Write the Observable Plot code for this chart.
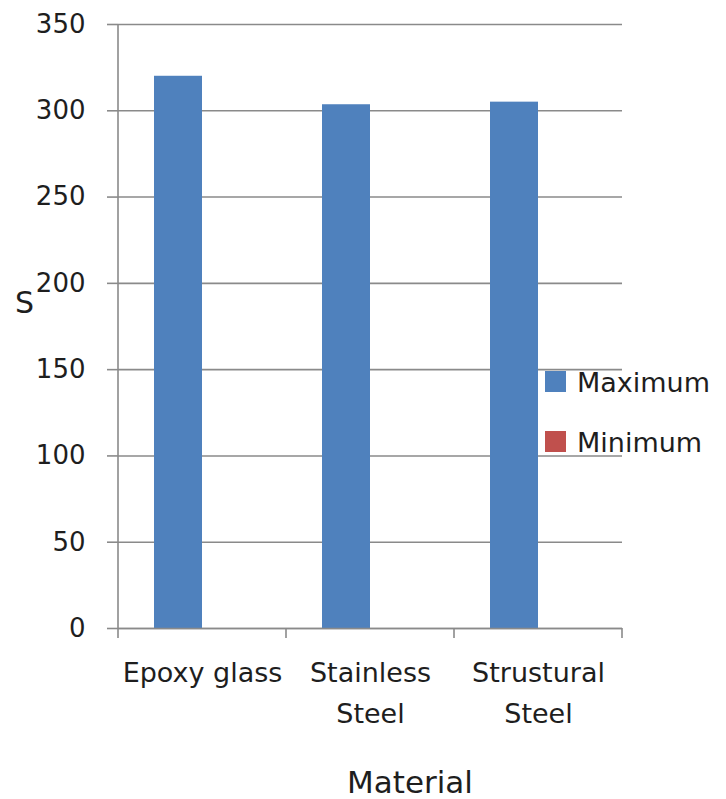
<!DOCTYPE html>
<html>
<head>
<meta charset="utf-8">
<script src="https://cdn.jsdelivr.net/npm/d3@7"></script>
<script src="https://cdn.jsdelivr.net/npm/@observablehq/plot@0.6"></script>
<style>
  html, body { margin: 0; padding: 0; background: #ffffff; }
  #chart svg { display: block; }
</style>
</head>
<body>
<div id="chart"></div>
<script>
// Materials along the category axis
const materials = ["Epoxy glass", "Stainless Steel", "Strustural Steel"];
const materialLabels = ["Epoxy glass", "Stainless\nSteel", "Strustural\nSteel"];

// Series values per material
const series = ["Maximum", "Minimum"];
const maximum = [320, 303.5, 305];
const minimum = [0, 0, 0];
const seriesColors = ["#4F81BD", "#C0504D"];

// Value axis ticks
const yTicks = [0, 50, 100, 150, 200, 250, 300, 350];

const rows = materials.flatMap((m, i) => [
  {material: m, series: "Maximum", value: maximum[i]},
  {material: m, series: "Minimum", value: minimum[i]}
]);

const lineColor = "#8a8a8a";
const textColor = "#1e1e1e";
const font = "DejaVu Sans";

const plot = Plot.plot({
  width: 726,
  height: 799,
  marginLeft: 118,
  marginRight: 104,
  marginTop: 24,
  marginBottom: 171,
  style: {fontFamily: font, color: textColor, background: "#ffffff", overflow: "visible"},
  fx: {domain: materials, padding: 0},
  x: {domain: series, paddingInner: 0, paddingOuter: 0.75, axis: null},
  y: {domain: [0, 350], ticks: yTicks},
  color: {domain: series, range: seriesColors},
  marks: [
    Plot.gridY(yTicks, {stroke: lineColor, strokeOpacity: 1, strokeWidth: 1.6}),
    Plot.barY(rows, {fx: "material", x: "series", y: "value", fill: "series"}),
    Plot.ruleY([0], {stroke: lineColor, strokeWidth: 1.6}),
    Plot.axisY(yTicks, {
      tickSize: 11, tickPadding: 22, fontSize: 26, stroke: lineColor, strokeWidth: 1.6,
      fill: textColor, label: null
    }),
    Plot.axisFx({
      anchor: "bottom", tickSize: 0, tickPadding: 24, fontSize: 27, lineHeight: 1.52, fill: textColor,
      tickFormat: (d) => materialLabels[materials.indexOf(d)], label: null
    })
  ]
});

document.getElementById("chart").append(plot);

// Left axis line and category boundary ticks, placed from the plot's scales
const fx = plot.scale("fx");
const y = plot.scale("y");
const svg = d3.select(plot);
const edges = materials.map((m) => fx.apply(m)).concat([fx.apply(materials[materials.length - 1]) + fx.bandwidth]);
const y0 = y.apply(0);
const yTop = y.apply(350);
const g = svg.append("g").attr("stroke", lineColor).attr("stroke-width", 1.6);
g.append("line").attr("x1", edges[0]).attr("x2", edges[0]).attr("y1", yTop).attr("y2", y0);
edges.forEach((x) => {
  g.append("line").attr("x1", x).attr("x2", x).attr("y1", y0).attr("y2", y0 + 10);
});

// Axis titles
svg.append("text")
  .attr("x", 15).attr("y", 313)
  .attr("text-anchor", "start")
  .attr("font-size", 30).attr("fill", textColor)
  .text("S");
svg.append("text")
  .attr("x", 410).attr("y", 793)
  .attr("text-anchor", "middle")
  .attr("font-size", 31).attr("fill", textColor)
  .text("Material");

// Legend
const color = plot.scale("color");
const legend = svg.append("g").attr("text-anchor", "start");
series.forEach((s, i) => {
  const top = 371 + i * 60;
  legend.append("rect")
    .attr("x", 545).attr("y", top).attr("width", 21).attr("height", 21)
    .attr("fill", color.apply(s));
  legend.append("text")
    .attr("x", 577).attr("y", top + 21)
    .attr("font-size", 27).attr("fill", textColor)
    .text(s);
});
</script>
</body>
</html>
